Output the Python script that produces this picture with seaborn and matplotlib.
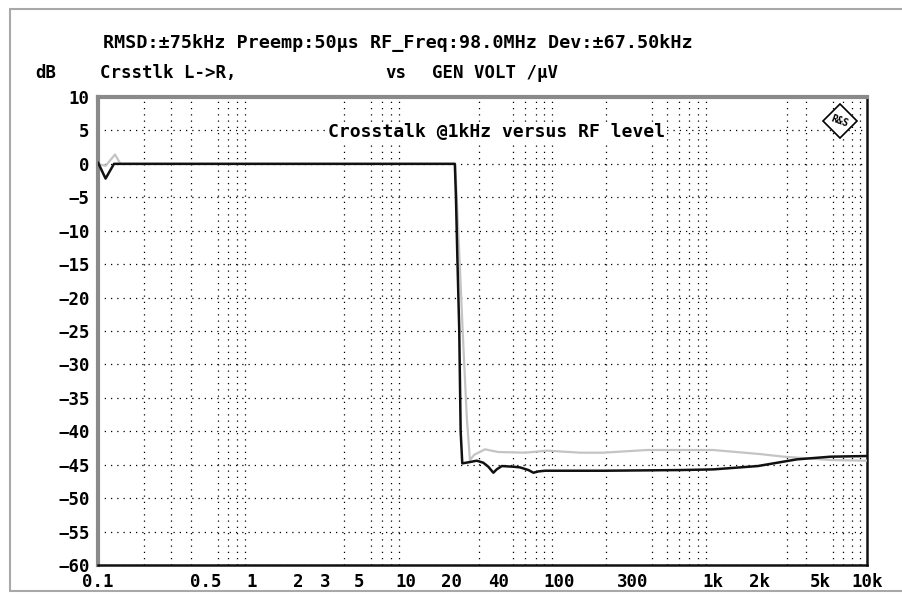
import numpy as np
import pandas as pd
import matplotlib
matplotlib.use("Agg")
import matplotlib.pyplot as plt
import seaborn as sns
from matplotlib.ticker import FixedLocator, LogLocator, NullFormatter
from matplotlib.lines import Line2D
from matplotlib.patches import Polygon

# ---- data ----
black_x = [0.1, 0.112, 0.127, 1, 10, 20.9, 21.25, 21.67, 22.32, 22.8, 23.36,
           26.2, 29.0, 32.0, 34.5, 37.2, 39.1, 42.2, 50.2, 55.5, 62.9, 67.8,
           73.1, 80.8, 96.3, 194, 613, 1000, 1950, 3500, 5800, 10000]
black_y = [0.2, -2.2, 0, 0, 0, 0, -5, -13.4, -24.8, -40, -44.8,
           -44.6, -44.4, -44.7, -45.3, -46.2, -45.7, -45.2, -45.3, -45.4, -45.8, -46.2,
           -46.0, -45.9, -45.9, -45.9, -45.8, -45.7, -45.2, -44.2, -43.8, -43.7]

grey_x = [0.1, 0.112, 0.129, 0.14, 1, 10, 21.0, 22.0, 23.5, 25.0, 26.2, 28.0,
          32.8, 40, 60, 83, 137, 194, 370, 1000, 2000, 2877, 5800, 10000]
grey_y = [0, -0.3, 1.4, 0, 0, 0, 0, -10, -25, -38, -44.3, -43.5,
          -42.7, -43.1, -43.2, -42.9, -43.2, -43.2, -42.8, -42.8, -43.4, -43.8, -44.3, -44.4]

x_ticks = [0.1, 0.5, 1, 2, 3, 5, 10, 20, 40, 100, 300, 1000, 2000, 5000, 10000]
x_labels = ["0.1", "0.5", "1", "2", "3", "5", "10", "20", "40", "100", "300",
            "1k", "2k", "5k", "10k"]
y_ticks = list(range(-60, 11, 5))

header = "RMSD:\u00b175kHz Preemp:50\u03bcs RF_Freq:98.0MHz Dev:\u00b167.50kHz"
y_unit = "dB"
y_name = "Crsstlk L->R,"
vs_txt = "vs"
x_name = "GEN VOLT /\u00b5V"
inner_title = "Crosstalk @1kHz versus RF level"

# ---- style ----
sns.set_style("white")
plt.rcParams['font.family'] = ['DejaVu Sans Mono', 'DejaVu Sans']
plt.rcParams['font.weight'] = 'bold'
plt.rcParams['text.color'] = 'black'
plt.rcParams['xtick.color'] = 'black'
plt.rcParams['ytick.color'] = 'black'

W, H = 903, 595
fig = plt.figure(figsize=(W / 100, H / 100), dpi=100)
ax = fig.add_axes([98 / W, 1 - 565 / H, (867 - 98) / W, (565 - 97) / H])

df_b = pd.DataFrame({"x": black_x, "y": black_y})
df_g = pd.DataFrame({"x": grey_x, "y": grey_y})

ax.set_xscale("log")
sns.lineplot(data=df_g, x="x", y="y", ax=ax, color="#c4c4c4", lw=1.6,
             sort=False, estimator=None, zorder=3)
sns.lineplot(data=df_b, x="x", y="y", ax=ax, color="#111111", lw=1.8,
             sort=False, estimator=None, zorder=4)

ax.set_xlim(0.1, 10000)
ax.set_ylim(-60, 10)

ax.xaxis.set_major_locator(FixedLocator(x_ticks))
ax.set_xticklabels(x_labels)
ax.xaxis.set_minor_locator(LogLocator(base=10, subs=np.arange(1, 10), numticks=100))
ax.xaxis.set_minor_formatter(NullFormatter())
ax.set_yticks(y_ticks)
ax.set_yticklabels([str(v).replace("-", "\u2212") for v in y_ticks])

ax.tick_params(axis="both", which="both", length=0, labelsize=12.5, labelcolor="black")
ax.tick_params(axis="x", pad=6)
ax.tick_params(axis="y", pad=6)
for lab in ax.get_xticklabels() + ax.get_yticklabels():
    lab.set_fontweight("bold")

ax.set_xlabel("")
ax.set_ylabel("")

# grid: vertical at minor log positions, horizontal every 5 dB
ax.grid(False)
ax.xaxis.grid(True, which="minor", color="black", lw=0.9, linestyle=(0, (1, 4)))
ax.yaxis.grid(True, which="major", color="black", lw=0.9, linestyle=(0, (1, 4)))

for side in ["left", "top"]:
    ax.spines[side].set_color("#8a8a8a")
    ax.spines[side].set_linewidth(3)
for side in ["right", "bottom"]:
    ax.spines[side].set_color("#111111")
    ax.spines[side].set_linewidth(1.8)

# inner title
fig.text(497 / W, 1 - 132 / H, inner_title, ha="center", va="center",
         fontsize=13, fontweight="bold",
         bbox=dict(facecolor="white", edgecolor="none", pad=1), zorder=10)

# header texts
fig.text(103 / W, 1 - 43 / H, header, ha="left", va="center", fontsize=13.2, fontweight="bold")
fig.text(35 / W, 1 - 73 / H, y_unit, ha="left", va="center", fontsize=12.5, fontweight="bold")
fig.text(100 / W, 1 - 73 / H, y_name, ha="left", va="center", fontsize=12.5, fontweight="bold")
fig.text(385 / W, 1 - 73 / H, vs_txt, ha="left", va="center", fontsize=12.5, fontweight="bold")
fig.text(432 / W, 1 - 73 / H, x_name, ha="left", va="center", fontsize=12.5, fontweight="bold")

# R&S logo diamond
cx, cy, r = 840, 121, 17
pts = [((cx) / W, 1 - (cy - r) / H), ((cx + r) / W, 1 - cy / H),
       (cx / W, 1 - (cy + r) / H), ((cx - r) / W, 1 - cy / H)]
fig.patches.append(Polygon(pts, closed=True, transform=fig.transFigure,
                           facecolor="white", edgecolor="black", lw=1.2, zorder=10))
fig.text(cx / W, 1 - cy / H, "R&S", ha="center", va="center", fontsize=7,
         fontweight="bold", rotation=-20, zorder=11)

# outer frame lines
fr = "#a8a8a8"
fig.add_artist(Line2D([10 / W, 10 / W], [1 - 9 / H, 1 - 591 / H], transform=fig.transFigure, color=fr, lw=1.5))
fig.add_artist(Line2D([10 / W, 1.0], [1 - 9 / H, 1 - 9 / H], transform=fig.transFigure, color=fr, lw=1.5))
fig.add_artist(Line2D([10 / W, 1.0], [1 - 591 / H, 1 - 591 / H], transform=fig.transFigure, color=fr, lw=1.5))

fig.savefig("out.png", dpi=100)
